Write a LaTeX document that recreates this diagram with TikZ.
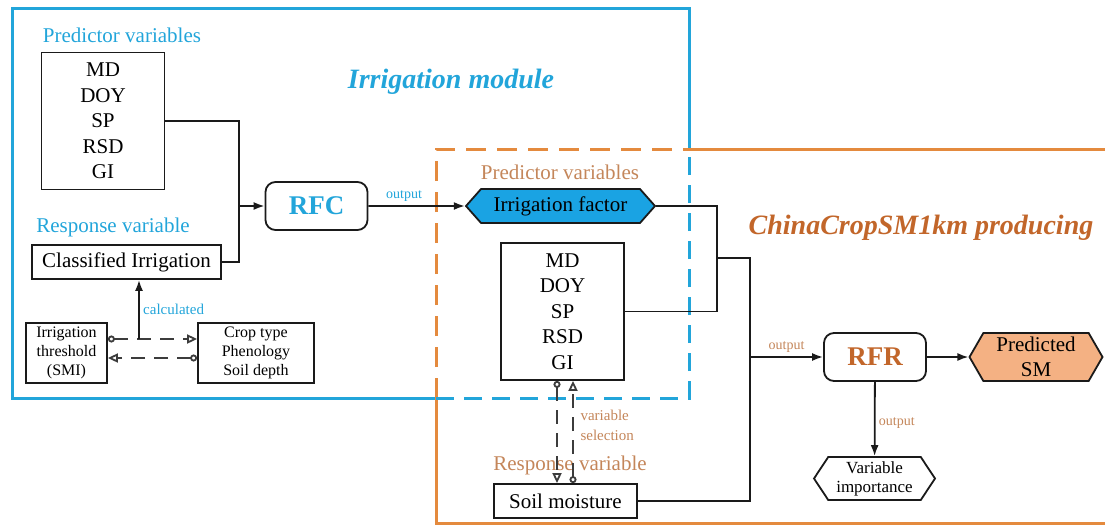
\documentclass[tikz,border=0pt]{standalone}
\usepackage{fontspec}
\setmainfont{Liberation Serif}
\usetikzlibrary{arrows.meta,positioning,shapes.symbols}
\definecolor{ink}{HTML}{1A1A1A}
\definecolor{irrblue}{HTML}{22A5DA}
\definecolor{facblue}{HTML}{1AA3E3}
\definecolor{prodorange}{HTML}{E48A3E}
\definecolor{prodbrown}{HTML}{C2662A}
\definecolor{labbrown}{HTML}{C4865A}
\definecolor{smfill}{HTML}{F4B183}
\newcommand\pfs[2]{\fontsize{#1}{#2}\selectfont}
\tikzset{>={Latex[length=11pt,width=8pt]},
  box/.style={draw=ink,line width=1.8pt,fill=white,inner sep=0pt,align=center},
  varlist/.style={box,minimum width=123pt,minimum height=137pt,font=\pfs{21}{25.5}},
  mainbox/.style={box,minimum height=34pt,font=\pfs{21}{25}},
  smallbox/.style={box,minimum height=60pt,font=\pfs{16}{19}},
  model/.style={box,rounded corners=10pt,minimum width=102pt,minimum height=48pt,
    font=\bfseries\pfs{27}{30}},
  hexa/.style={signal,signal to=west and east,draw=ink,line width=1.8pt,
    inner sep=0pt,align=center},
  blab/.style={text=irrblue,font=\pfs{21}{25}},
  olab/.style={text=labbrown,font=\pfs{21}{25}},
  tag/.style={font=\pfs{14}{16}},
  title/.style={font=\bfseries\itshape\pfs{28}{32}},
  flow/.style={->,draw=ink,line width=1.8pt},
  link/.style={draw=ink,line width=1.8pt},
  swap/.style={draw=ink!85,line width=1.8pt,dash pattern=on 14pt off 9pt,
    {Circle[open,length=7pt]}-{Triangle[open,length=10pt,width=9pt]}},
  frame/.style={line width=3pt}}

\begin{document}
\begin{tikzpicture}[x=1pt,y=-1pt]
\path[use as bounding box] (0,0) rectangle (1105,525);
% frames
\draw[frame,irrblue] (689,149) -- (689,8) -- (12,8) -- (12,398) -- (436,398);
\draw[frame,prodorange] (689,149) -- (1115,149);
\draw[frame,prodorange] (436,398) -- (436,523) -- (1115,523);
\draw[frame,prodorange,dash pattern=on 20pt off 11pt] (436,398) -- (436,149) -- (689,149);
\draw[frame,irrblue,dash pattern=on 18pt off 10pt] (436,398) -- (689,398) -- (689,149);

% irrigation module
\node[blab] (predLlab) at (122,35) {Predictor variables};
\node[varlist] (predL) at (103,121) {MD\\DOY\\SP\\RSD\\GI};
\node[blab] (respLlab) at (113,227) {Response variable};
\node[mainbox,minimum width=189pt] (classIrr) at (126.5,262) {Classified Irrigation};
\node[smallbox,minimum width=81pt] (thr) at (66.5,353) {Irrigation\\threshold\\(SMI)};
\node[smallbox,minimum width=116pt] (crop) at (256,353) {Crop type\\Phenology\\Soil depth};
\node[model,text=irrblue] (rfc) at (316.5,206) {RFC};
\node[title,text=irrblue] (irrTitle) at (451,82) {Irrigation module};

\coordinate (jL) at (239,206);
\coordinate (calc) at (139,339);
\draw[link] (predL.east) -| (jL) |- (classIrr.east);
\draw[flow] (jL) -- (rfc);
\draw[swap] ([yshift=14pt]thr.east) -- ([yshift=14pt]crop.west);
\draw[swap] ([yshift=-5pt]crop.west) -- ([yshift=-5pt]thr.east);
\draw[flow] (calc) -- (classIrr.south -| calc)
  node[tag,text=irrblue,font=\pfs{15}{17},midway,right] {calculated};

% ChinaCropSM1km producing
\node[olab] (predRlab) at (560,172) {Predictor variables};
\node[hexa,fill=facblue,minimum width=189pt,minimum height=34pt,
  signal pointer angle=97,font=\pfs{21}{25}] (irrFac) at (560.5,206) {Irrigation factor};
\node[varlist] (predR) at (562.5,311.5) {MD\\DOY\\SP\\RSD\\GI};
\node[olab] (respRlab) at (570,465) {Response variable};
\node[mainbox,minimum width=143pt] (soil) at (565.5,501) {Soil moisture};
\node[model,text=prodbrown] (rfr) at (875,357) {RFR};
\node[hexa,fill=smfill,minimum width=133pt,minimum height=48pt,
  signal pointer angle=120,font=\pfs{21}{25}] (predSM) at (1036,357) {Predicted\\SM};
\node[hexa,fill=white,minimum width=121pt,minimum height=43pt,
  signal pointer angle=113,font=\pfs{17}{19}] (varImp) at (874.5,478.5) {Variable\\importance};
\node[title,text=prodbrown] (cropTitle) at (921,228) {ChinaCropSM1km producing};

\draw[flow] (rfc) -- node[tag,text=irrblue,above,pos=0.37] {output} (irrFac);
\coordinate (jR) at (717,258);
\coordinate (jS) at (750,357);
\draw[link] (irrFac.east) -| (jR) |- (predR.east);
\draw[link] (jR) -| (jS) |- (soil.east);
\draw[flow] (jS) -- node[tag,text=labbrown,above] {output} (rfr);
\draw[flow] (rfr) -- (predSM);
\draw[flow] (rfr) -- node[tag,text=labbrown,right,pos=0.55] {output} (varImp);

\coordinate (vl) at (557,0);
\coordinate (vr) at (573,0);
\draw[swap] (vl |- predR.south) -- (vl |- soil.north);
\draw[swap] (vr |- soil.north) -- (vr |- predR.south);
\node[tag,text=labbrown,font=\pfs{15}{20},anchor=west,align=left] (varSel) at (577,425)
  {variable\\selection};
\end{tikzpicture}
\end{document}
